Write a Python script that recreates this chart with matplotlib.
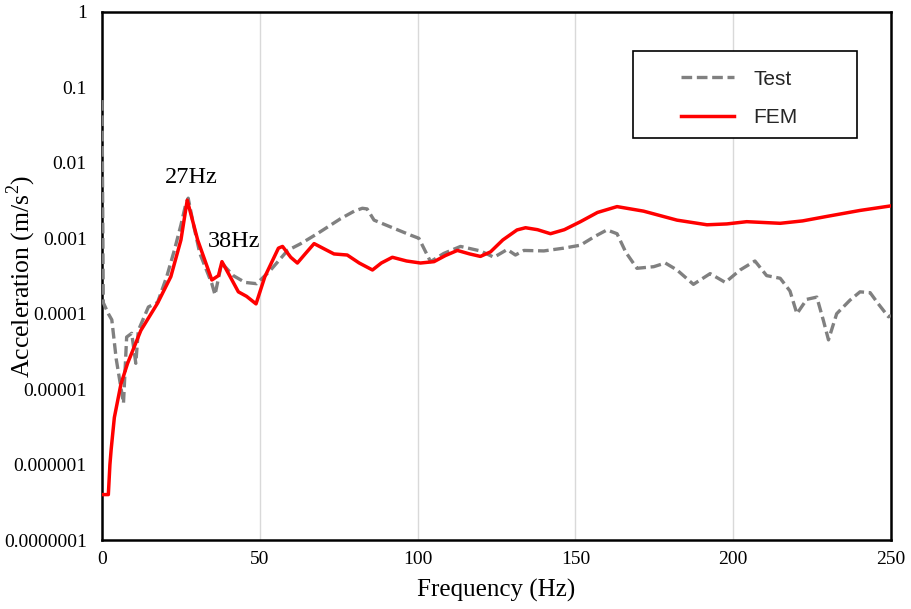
import matplotlib
matplotlib.use("Agg")
import matplotlib.pyplot as plt
from matplotlib.patches import Rectangle

# Measured acceleration spectrum (Test)
test_freq = [0, 0.4, 2.0, 3.1, 4.5, 6.8, 7.8, 9.4, 10.7, 11.5, 14.7, 17.6,
             20.5, 22.9, 25.0, 26.5, 27.3, 29.0, 31.0, 34.8, 35.8, 37.9,
             41.6, 45.3, 49.0, 53.2, 58.8, 63.0, 68.2, 75.6, 80.0, 82.5,
             84.0, 86.2, 91.5, 97.8, 100.4, 104.1, 108.3, 113.6, 119.9,
             124.2, 128.4, 131.0, 133.7, 140.0, 146.3, 151.6, 156.0, 160.0,
             163.2, 166.0, 169.5, 174.8, 178.5, 182.2, 187.4, 192.7, 197.5,
             202.2, 206.9, 210.6, 214.9, 218.0, 220.2, 223.3, 226.5, 228.6,
             230.2, 232.8, 237.0, 240.2, 243.4, 246.0, 249.2, 250.0]
test_acc = [6.8e-2, 1.4e-4, 1.0e-4, 8.3e-5, 2.5e-5, 6.5e-6, 4.9e-5, 5.5e-5,
            2.2e-5, 6.0e-5, 1.23e-4, 1.41e-4, 3.1e-4, 6.9e-4, 1.5e-3, 2.8e-3,
            3.4e-3, 1.5e-3, 6.3e-4, 2.5e-4, 1.78e-4, 4.7e-4, 3.2e-4, 2.6e-4,
            2.5e-4, 3.7e-4, 6.9e-4, 8.5e-4, 1.15e-3, 1.82e-3, 2.3e-3, 2.5e-3,
            2.45e-3, 1.74e-3, 1.41e-3, 1.10e-3, 1.0e-3, 4.9e-4, 6.3e-4,
            7.8e-4, 6.8e-4, 5.6e-4, 7.1e-4, 6.0e-4, 6.9e-4, 6.8e-4, 7.4e-4,
            8.1e-4, 1.05e-3, 1.29e-3, 1.15e-3, 6.5e-4, 4.0e-4, 4.2e-4, 4.7e-4,
            3.8e-4, 2.45e-4, 3.4e-4, 2.6e-4, 3.8e-4, 5.0e-4, 3.2e-4, 2.95e-4,
            2.0e-4, 1.0e-4, 1.55e-4, 1.66e-4, 8.1e-5, 4.5e-5, 1.0e-4, 1.51e-4,
            1.95e-4, 1.9e-4, 1.35e-4, 9.1e-5, 9.5e-5]

# Finite element result (FEM)
fem_freq = [0.5, 2.0, 2.5, 2.9, 3.9, 6.0, 8.1, 12.3, 17.6, 21.8, 25.0, 27.0,
            30.3, 34.8, 36.9, 38.0, 40.6, 43.2, 45.8, 48.8, 51.6, 55.9, 57.2,
            59.8, 61.9, 64.5, 67.2, 70.5, 73.5, 77.7, 81.5, 85.7, 88.5, 92.0,
            96.5, 100.9, 105.2, 108.8, 112.6, 116.5, 119.9, 123.1, 127.0,
            131.5, 134.2, 138.0, 142.1, 146.5, 151.6, 157.0, 163.2, 171.6,
            182.2, 191.7, 198.0, 204.3, 214.9, 222.0, 229.7, 240.2, 250.0]
fem_acc = [4.0e-7, 4.0e-7, 1.0e-6, 1.6e-6, 4.2e-6, 1.17e-5, 2.2e-5, 6.0e-5,
           1.38e-4, 3.1e-4, 9.5e-4, 3.2e-3, 9.5e-4, 2.8e-4, 3.2e-4, 4.9e-4,
           3.1e-4, 1.95e-4, 1.7e-4, 1.35e-4, 3.1e-4, 7.4e-4, 7.8e-4, 5.6e-4,
           4.7e-4, 6.3e-4, 8.5e-4, 7.2e-4, 6.2e-4, 6.0e-4, 4.7e-4, 3.8e-4,
           4.7e-4, 5.6e-4, 5.0e-4, 4.7e-4, 4.9e-4, 5.9e-4, 6.9e-4, 6.2e-4,
           5.75e-4, 6.6e-4, 9.5e-4, 1.29e-3, 1.38e-3, 1.3e-3, 1.15e-3,
           1.3e-3, 1.66e-3, 2.2e-3, 2.63e-3, 2.29e-3, 1.74e-3, 1.51e-3,
           1.55e-3, 1.66e-3, 1.58e-3, 1.7e-3, 1.95e-3, 2.34e-3, 2.69e-3]

y_ticks = [1e-7, 1e-6, 1e-5, 1e-4, 1e-3, 1e-2, 1e-1, 1]
y_tick_labels = ['0.0000001', '0.000001', '0.00001', '0.0001', '0.001',
                 '0.01', '0.1', '1']
x_ticks = [0, 50, 100, 150, 200, 250]

# peak labels
peaks = [(27, '27Hz'), (38, '38Hz')]

plt.rcParams['font.family'] = 'Liberation Serif'
plt.rcParams['mathtext.fontset'] = 'custom'
plt.rcParams['mathtext.rm'] = 'Liberation Serif'

fig = plt.figure(figsize=(9.11, 6.09), dpi=100)
ax = fig.add_axes([0.112, 0.1133, 0.866, 0.867])

ax.plot(test_freq, test_acc, color='#808080', lw=2.4, dashes=(3.2, 1.4),
        dash_capstyle='butt', label='Test', zorder=3)
ax.plot(fem_freq, fem_acc, color='#ff0000', lw=2.5, label='FEM', zorder=4)

ax.set_yscale('log')
ax.set_xlim(0, 250)
ax.set_ylim(1e-7, 1)
ax.set_yticks(y_ticks)
ax.set_yticklabels(y_tick_labels)
ax.minorticks_off()
ax.set_xticks(x_ticks)
ax.tick_params(axis='both', length=0, labelsize=14, colors='black')
ax.tick_params(axis='y', pad=11)
ax.tick_params(axis='x', pad=8)

ax.grid(axis='x', color='#d9d9d9', lw=1)
ax.set_axisbelow(True)
for s in ax.spines.values():
    s.set_linewidth(1.8)
    s.set_color('black')

ax.set_xlabel('Frequency (Hz)', fontsize=18, labelpad=8)
ax.set_ylabel(r'Acceleration (m/s$^{\mathregular{2}}$)', fontsize=18.5)
ax.yaxis.set_label_coords(-0.081, 0.5)

peak_offsets = {27: (1.2, 6.3e-3), 38: (3.8, 9.2e-4)}
for f, txt in peaks:
    dx, yv = peak_offsets[f]
    ax.text(f + dx, yv, txt, fontsize=17.5, ha='center', va='center',
            zorder=5)

# legend box
ax.add_patch(Rectangle((0.673, 0.761), 0.284, 0.165, transform=ax.transAxes,
                       facecolor='white', edgecolor='black', lw=1.2,
                       zorder=6))
leg = ax.legend(loc='center', bbox_to_anchor=(0.808, 0.836), frameon=False,
                prop={'family': 'Liberation Sans', 'size': 15},
                handlelength=2.5, handletextpad=0.95, labelspacing=0.95,
                borderpad=0)
leg.set_zorder(7)
for t in leg.get_texts():
    t.set_color('#262626')

fig.savefig('out.png', dpi=100)
